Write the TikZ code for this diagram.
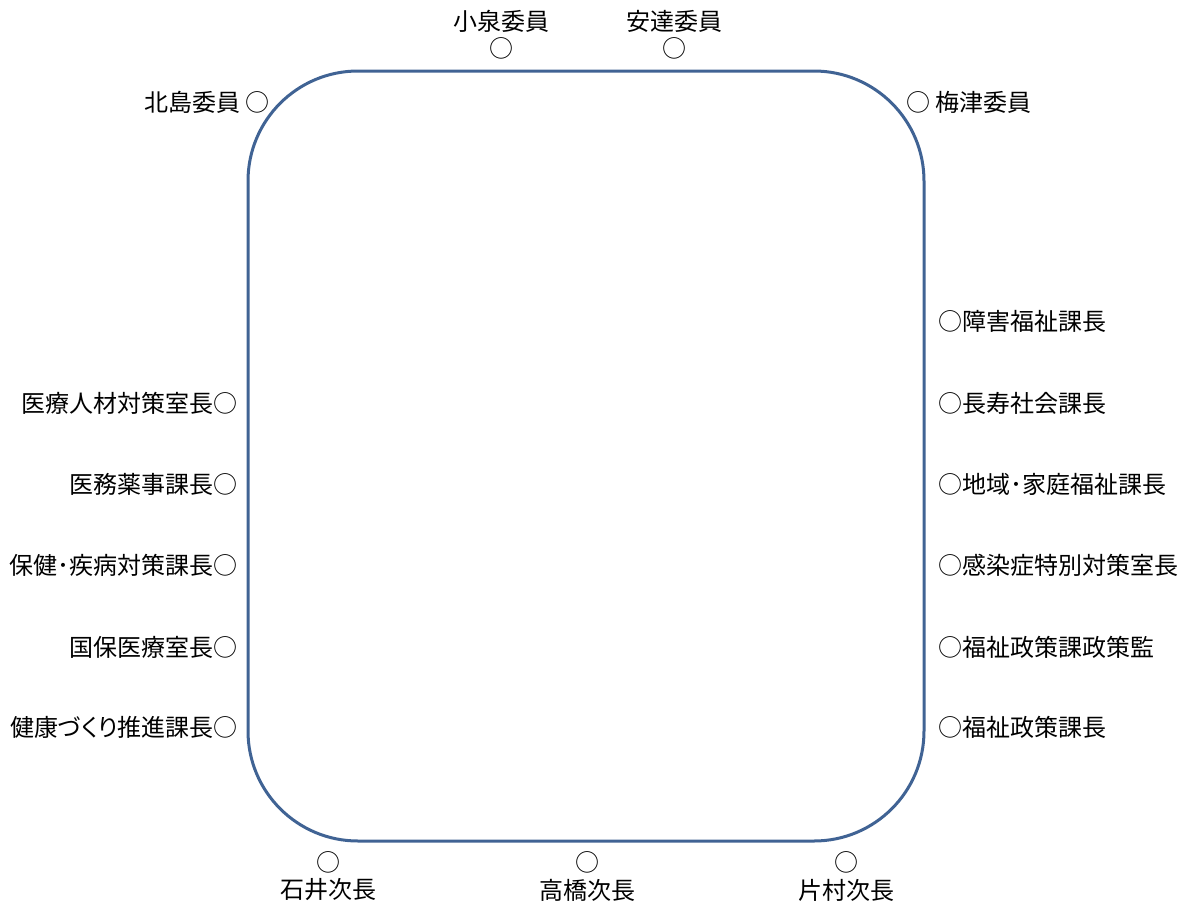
\documentclass[tikz,border=0pt]{standalone}
\usepackage{fontspec}
\setmainfont{Noto Sans CJK JP}
\newfontfamily\pfont[RawFeature=+palt]{Noto Sans CJK JP}
\definecolor{tbl}{RGB}{64,99,148}
\begin{document}
\begin{tikzpicture}[x=1pt,y=-1pt,
  lbl/.style={inner sep=0pt,font=\fontsize{24}{28}\selectfont},
  tablebox/.style={draw=tbl,line width=3pt,rounded corners=110pt}]
\useasboundingbox (0,0) rectangle (1186,908);
\draw[tablebox] (248,71) rectangle (924,841);
% top
\node[lbl] (koizumi) at (501,21) {小泉委員};
\node[lbl] (koizumiS) at (501,48) {○};
\node[lbl] (adachi) at (674,21) {安達委員};
\node[lbl] (adachiS) at (674,48) {○};
\node[lbl,anchor=east] (kitajima) at (270,102) {北島委員 ○};
\node[lbl,anchor=west] (umezu) at (906,102) {○ 梅津委員};
% left
\node[lbl,anchor=east] (l1) at (238,403) {医療人材対策室長○};
\node[lbl,anchor=east] (l2) at (238,484) {医務薬事課長○};
\node[lbl,anchor=east] (l3) at (238,565) {保健･疾病対策課長○};
\node[lbl,anchor=east] (l4) at (238,647) {国保医療室長○};
\node[lbl,anchor=east] (l5) at (238,727) {健康{\pfont づくり}推進課長○};
% right
\node[lbl,anchor=west] (r1) at (938,321) {○障害福祉課長};
\node[lbl,anchor=west] (r2) at (938,403) {○長寿社会課長};
\node[lbl,anchor=west] (r3) at (938,484) {○地域･家庭福祉課長};
\node[lbl,anchor=west] (r4) at (938,565) {○感染症特別対策室長};
\node[lbl,anchor=west] (r5) at (938,647) {○福祉政策課政策監};
\node[lbl,anchor=west] (r6) at (938,727) {○福祉政策課長};
% bottom
\node[lbl] (ishiiS) at (328,862) {○};
\node[lbl] (ishii) at (328,890) {石井次長};
\node[lbl] (takahashiS) at (587,862) {○};
\node[lbl] (takahashi) at (587,890) {高橋次長};
\node[lbl] (katamuraS) at (846,862) {○};
\node[lbl] (katamura) at (846,890) {片村次長};
\end{tikzpicture}
\end{document}
